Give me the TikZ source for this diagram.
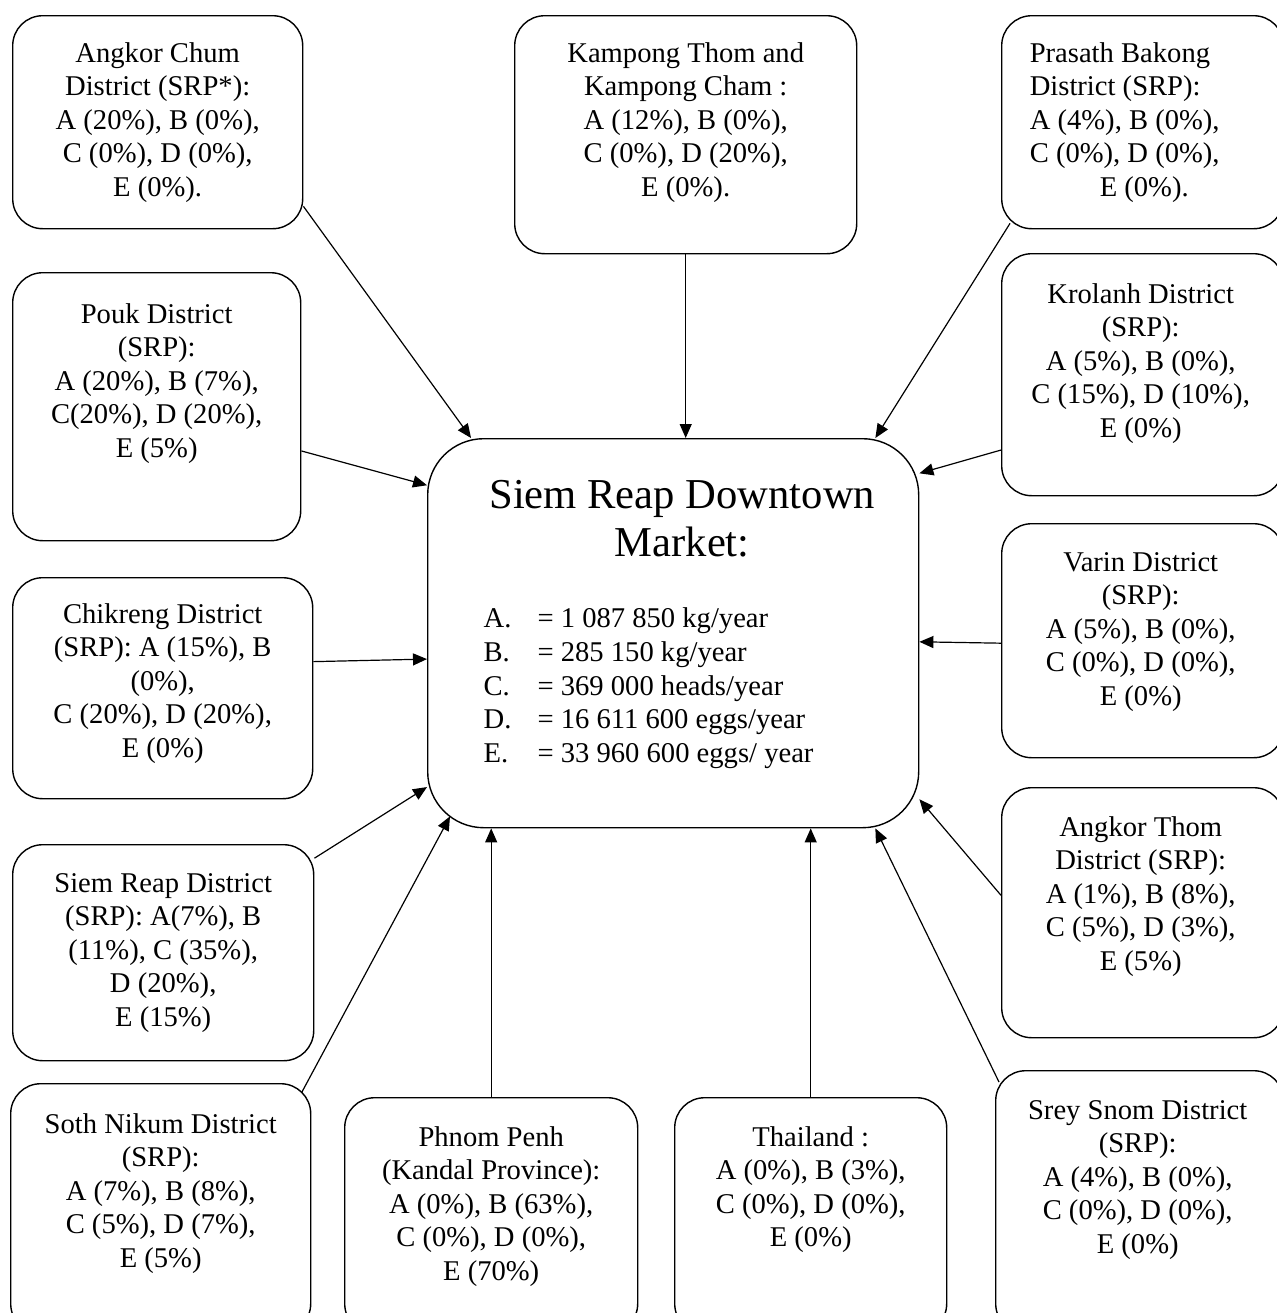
\documentclass[tikz,border=0pt]{standalone}
\usepackage{fontspec}
\setmainfont{Liberation Serif}
\usetikzlibrary{positioning, calc, arrows.meta}

\begin{document}
\begin{tikzpicture}[> = {Triangle[length=7pt, width=6pt]}, % arrow head style
                x = 0.5pt, y = -0.5pt, % one unit is one pixel, y runs down
                line width = 0.6pt % line style
            ]

            \tikzstyle{src}=[draw = black, line width = 0.7pt, rectangle,
            rounded corners = 15pt, anchor = north west, inner sep = 0pt]
            \tikzstyle{txt}=[align = center, inner sep = 0pt,
            font = \fontsize{14.3}{16.7}\selectfont]

            \useasboundingbox (0,0) rectangle (1277,1313);
            \clip (0,0) rectangle (1277,1313);

            % the boxes
            \node[src, minimum width = 145pt, minimum height = 106.5pt] (chum) at (12,15) {};
            \node[src, minimum width = 171pt, minimum height = 119pt] (thom) at (514,15) {};
            \node[src, minimum width = 141pt, minimum height = 106.5pt] (bakong) at (1001,15) {};
            \node[src, minimum width = 144pt, minimum height = 134pt] (pouk) at (12,272) {};
            \node[src, minimum width = 141pt, minimum height = 121pt] (krolanh) at (1001,253) {};
            \node[src, minimum width = 150pt, minimum height = 110.5pt] (chik) at (12,577) {};
            \node[src, minimum width = 245.5pt, minimum height = 194.5pt,
            rounded corners = 28pt] (mkt) at (427,438) {};
            \node[src, minimum width = 141pt, minimum height = 117pt] (varin) at (1001,523) {};
            \node[src, minimum width = 150.5pt, minimum height = 108pt] (srd) at (12,844) {};
            \node[src, minimum width = 141pt, minimum height = 125pt] (athom) at (1001,787) {};
            \node[src, minimum width = 150pt, minimum height = 125pt] (soth) at (10,1083) {};
            \node[src, minimum width = 146.5pt, minimum height = 118pt] (penh) at (344,1097) {};
            \node[src, minimum width = 136pt, minimum height = 118pt] (thai) at (674,1097) {};
            \node[src, minimum width = 144pt, minimum height = 131.5pt] (srey) at (995,1070) {};

            % the texts
            \node[txt, below = 13.5pt of chum.north] (chumtxt) {Angkor Chum\\District (SRP*):\\A (20\%), B (0\%),\\C (0\%), D (0\%),\\E (0\%).};
            \node[txt, below = 13.5pt of thom.north] (thomtxt) {Kampong Thom and\\Kampong Cham :\\A (12\%), B (0\%),\\C (0\%), D (20\%),\\E (0\%).};
            \node[txt, align = left, below = 13.5pt of bakong.north, xshift = -9pt] (bakongtxt) {Prasath Bakong\\District (SRP):\\A (4\%), B (0\%),\\C (0\%), D (0\%),\\\hspace*{35pt}E (0\%).};
            \node[txt, below = 15.5pt of pouk.north] (pouktxt) {Pouk District\\(SRP):\\A (20\%), B (7\%),\\C(20\%), D (20\%),\\E (5\%)};
            \node[txt, below = 15pt of krolanh.north, xshift = -1pt] (krolanhtxt) {Krolanh District\\(SRP):\\A (5\%), B (0\%),\\C (15\%), D (10\%),\\E (0\%)};
            \node[txt, below = 13pt of chik.north] (chiktxt) {Chikreng District\\(SRP): A (15\%), B\\(0\%),\\C (20\%), D (20\%),\\E (0\%)};
            \node[txt, below = 14.5pt of varin.north, xshift = -1pt] (varintxt) {Varin District\\(SRP):\\A (5\%), B (0\%),\\C (0\%), D (0\%),\\E (0\%)};
            \node[txt, below = 14.5pt of srd.north] (srdtxt) {Siem Reap District\\(SRP): A(7\%), B\\(11\%), C (35\%),\\D (20\%),\\E (15\%)};
            \node[txt, below = 14.5pt of athom.north, xshift = -1pt] (athomtxt) {Angkor Thom\\District (SRP):\\A (1\%), B (8\%),\\C (5\%), D (3\%),\\E (5\%)};
            \node[txt, below = 15pt of soth.north] (sothtxt) {Soth Nikum District\\(SRP):\\A (7\%), B (8\%),\\C (5\%), D (7\%),\\E (5\%)};
            \node[txt, below = 14.5pt of penh.north] (penhtxt) {Phnom Penh\\(Kandal Province):\\A (0\%), B (63\%),\\C (0\%), D (0\%),\\E (70\%)};
            \node[txt, below = 14.5pt of thai.north] (thaitxt) {Thailand :\\A (0\%), B (3\%),\\C (0\%), D (0\%),\\E (0\%)};
            \node[txt, below = 15pt of srey.north, xshift = -1pt] (sreytxt) {Srey Snom District\\(SRP):\\A (4\%), B (0\%),\\C (0\%), D (0\%),\\E (0\%)};

            \node[txt, font = \fontsize{21.3}{24}\selectfont, below = 21pt of mkt.north,
            xshift = 4.5pt] (mkttitle) {Siem Reap Downtown\\Market:};
            \node[txt, align = left, anchor = north west, font = \fontsize{14.3}{16.9}\selectfont,
            below right = 84.5pt and 28pt of mkt.north west] (mktlist)
            {\makebox[27pt][l]{A.}= 1 087 850 kg/year\\
             \makebox[27pt][l]{B.}= 285 150 kg/year\\
             \makebox[27pt][l]{C.}= 369 000 heads/year\\
             \makebox[27pt][l]{D.}= 16 611 600 eggs/year\\
             \makebox[27pt][l]{E.}= 33 960 600 eggs/ year};

            % flows into the market
            \draw[->] (chum.-30) -- (mkt.136.2);
            \draw[->] (thom.south) -- (thom.south |- mkt.north);
            \draw[->] ($(bakong.south west)+(9,-6)$) -- (mkt.44.6);
            \draw[->] (pouk.-17) -- (mkt.149.9);
            \draw[->] (krolanh.208.2) -- (mkt.33.2);
            \draw[->] (chik.10.4) -- (mkt.186.9);
            \draw[->] (varin.181.2) -- (mkt.-2);
            \draw[->] (srd.32) -- (mkt.212.2);
            \draw[->] (athom.173) -- (mkt.-34.3);
            \draw[->] ($(soth.north east)+(-10,10)$) -- ($(mkt.south west)+(23,-12)$);
            \draw[->] (penh.north) -- (penh.north |- mkt.south);
            \draw[->] (thai.north) -- (thai.north |- mkt.south);
            \draw[->] ($(srey.north west)+(4,12)$) -- (mkt.-44.1);
\end{tikzpicture}
\end{document}
